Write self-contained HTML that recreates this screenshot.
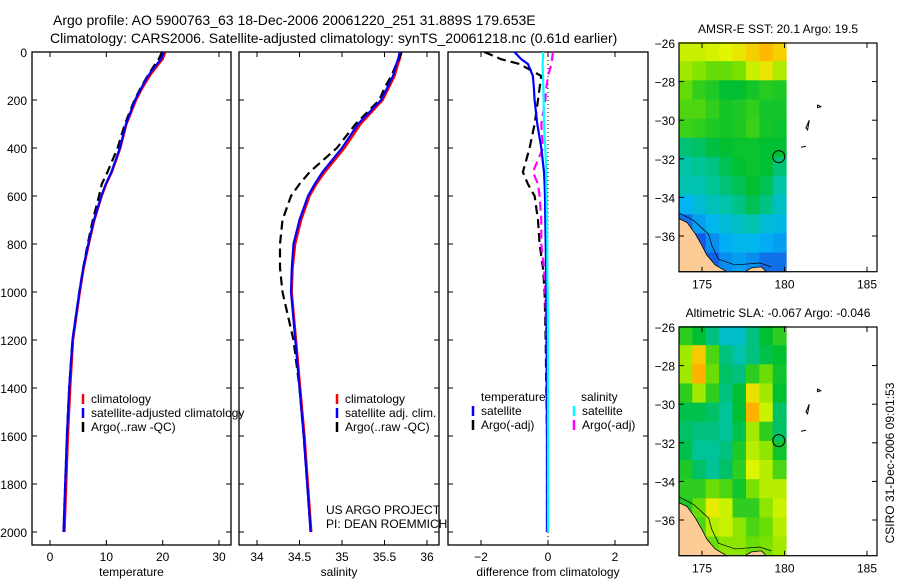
<!DOCTYPE html>
<html><head><meta charset="utf-8"><style>
body{margin:0;background:#fff;width:900px;height:580px;overflow:hidden}
svg text{font-family:"Liberation Sans",sans-serif;font-size:12px;fill:#000}
</style></head><body>
<svg id="fig" width="900" height="580" viewBox="0 0 900 580" xmlns="http://www.w3.org/2000/svg">
<text x="53" y="25" style="font-size:14px">Argo profile: AO 5900763_63 18-Dec-2006 20061220_251 31.889S 179.653E</text>
<text x="50" y="43" style="font-size:14px">Climatology: CARS2006. Satellite-adjusted climatology: synTS_20061218.nc (0.61d earlier)</text>
<g id="g"></g>
</svg>
<script>
const depths=[0,30,50,100,150,200,300,400,500,550,600,700,800,900,1000,1200,1400,1600,1800,2000];
const tempClim=[20.5,20.0,19.3,17.7,16.4,15.3,13.6,12.5,11.0,10.0,9.2,7.9,6.9,6.0,5.3,4.1,3.6,3.2,2.9,2.6];
const tempSat=[20.2,19.7,19.0,17.4,16.2,15.1,13.5,12.4,10.9,9.9,9.1,7.8,6.8,5.9,5.2,4.0,3.4,3.0,2.7,2.4];
const tempArgo=[19.9,19.3,18.7,17.3,16.1,15.0,13.3,12.0,10.2,9.2,8.7,7.6,6.7,5.9,5.2,4.0,3.4,3.0,2.7,2.4];
const salClim=[35.7,35.68,35.66,35.62,35.55,35.48,35.22,35.03,34.8,34.7,34.62,34.52,34.45,34.42,34.41,34.46,34.51,34.56,34.6,34.64];
const salSat=[35.68,35.66,35.64,35.6,35.53,35.46,35.19,35.0,34.77,34.68,34.6,34.5,34.43,34.41,34.4,34.45,34.5,34.55,34.59,34.63];
const salArgo=[35.7,35.67,35.64,35.58,35.5,35.44,35.16,34.94,34.62,34.5,34.4,34.3,34.27,34.27,34.3,34.43,34.5,34.55,34.59,34.63];
const dTempSat=[-1.0,-0.8,-0.6,-0.45,-0.42,-0.4,-0.32,-0.2,-0.12,-0.1,-0.09,-0.08,-0.07,-0.06,-0.05,-0.04,-0.04,-0.03,-0.03,-0.03];
const dTempArgo=[-1.9,-1.4,-0.85,-0.2,-0.25,-0.3,-0.4,-0.55,-0.75,-0.6,-0.4,-0.3,-0.25,-0.15,-0.1,-0.07,-0.05,-0.03,-0.03,-0.03];
const dSalSat=[-0.15,-0.15,-0.16,-0.15,-0.14,-0.13,-0.12,-0.08,-0.05,-0.05,-0.04,-0.03,-0.02,-0.02,-0.01,0,0,0,0,0];
const dSalArgo=[0.15,0.12,0.1,0.0,-0.05,-0.08,-0.2,-0.15,-0.45,-0.3,-0.25,-0.2,-0.2,-0.12,-0.08,-0.05,-0.03,0,0,0];
const depthTicks=[0,200,400,600,800,1000,1200,1400,1600,1800,2000];
const tempTicks=[0,10,20,30];
const salTicks=[34,34.5,35,35.5,36];
const diffTicks=[-2,0,2];
const latTicks=[-26,-28,-30,-32,-34,-36];
const lonTicks=[175,180,185];
const sstGrid=[
[20.8,20.8,20.9,21,21.2,21.5,21.8,21.5],
[20.5,20.3,20,20,20.2,20.8,21.2,20.6],
[20,19.5,19.3,19,19,19.2,19.4,19.3],
[19.8,19.8,19.5,19.2,19.3,19.5,19.2,19.2],
[19.6,19.5,19.3,19.2,19.3,19.6,19.2,19.1],
[18.6,18.7,18.9,19,19.1,19.1,19,19],
[18.3,18.4,18.5,18.8,19,19.1,19,18.6],
[18.2,18.2,18.4,18.6,18.8,19,18.8,18.3],
[17.4,17.8,18.1,18.3,18.5,18.8,18.5,18],
[16.5,17.1,17.5,17.8,18,18.2,17.8,17.6],
[15.5,16.2,16.9,17.3,17.5,17.5,17.3,17.1],
[14.8,15.3,16.3,16.9,17.1,16.9,16.5,16.5]];
const slaGrid=[
[-0.02,-0.05,-0.08,-0.12,-0.12,-0.08,-0.05,-0.02],
[0.05,0.12,0.0,-0.08,-0.1,-0.08,-0.06,-0.05],
[0.05,0.14,0.02,-0.07,-0.08,-0.02,0.02,-0.04],
[-0.02,0.05,-0.02,-0.08,-0.05,0.1,0.05,-0.05],
[-0.06,-0.06,-0.07,-0.09,-0.05,0.14,0.07,-0.07],
[-0.07,-0.08,-0.08,-0.09,-0.06,0.05,-0.02,-0.07],
[-0.06,-0.09,-0.09,-0.08,-0.03,0.06,0.04,-0.04],
[-0.03,-0.07,-0.09,-0.07,-0.02,0.08,0.06,0.0],
[-0.02,-0.02,0.02,0.0,-0.04,0.03,0.06,0.06],
[-0.03,0.02,0.09,0.07,-0.02,-0.02,0.04,0.07],
[-0.05,0.0,0.06,0.07,0.04,0.0,0.02,0.06],
[-0.06,-0.03,0.02,0.04,0.04,0.02,0.03,0.05]];
const floatLon=179.653, floatLat=-31.889;

const NS='http://www.w3.org/2000/svg';
const G=document.getElementById('g');
function mk(tag,attrs,parent){const e=document.createElementNS(NS,tag);for(const k in attrs)e.setAttribute(k,attrs[k]);(parent||G).appendChild(e);return e;}
function txt(x,y,s,anchor,extra){const t=mk('text',Object.assign({x:x,y:y,'text-anchor':anchor||'start'},extra||{}));t.textContent=s;return t;}
const yD=d=>52+d*0.24;

function panel(name,x0,x1,xmin,xmax,ticks,fmt,label,showY){
  const sx=v=>x0+18+(v-xmin)/(xmax-xmin)*(x1-x0-30);
  const r=mk('rect',{x:x0,y:52,width:x1-x0,height:493,fill:'none',stroke:'#000','stroke-width':1.3});
  
  
  ticks.forEach(t=>{const X=sx(t);
    mk('line',{x1:X,x2:X,y1:545,y2:540,stroke:'#000'});mk('line',{x1:X,x2:X,y1:52,y2:57,stroke:'#000'});
    const e=txt(X,561,fmt(t),'middle');
    
    });
  depthTicks.forEach(d=>{const Y=yD(d);
    mk('line',{x1:x0,x2:x0+5,y1:Y,y2:Y,stroke:'#000'});mk('line',{x1:x1,x2:x1-5,y1:Y,y2:Y,stroke:'#000'});
    if(showY){const e=txt(x0-5,Y+5,String(d),'end');
      
      }});
  const l=txt((x0+x1)/2,576,label,'middle');
  
  
  return sx;
}
function line(sx,vals,color,dash,name,w){
  const pts=vals.map((v,i)=>sx(v).toFixed(1)+','+yD(depths[i]).toFixed(1)).join(' ');
  const p=mk('polyline',{points:pts,fill:'none',stroke:color,'stroke-width':w||2.2,'stroke-dasharray':dash||'none'});
  
  
}
function legend(x,y,color,label,name){
  mk('line',{x1:x,x2:x,y1:y-9,y2:y+1,stroke:color,'stroke-width':2.5});
  const t=txt(x+8,y,label);
  
  
}

let sx=panel('temperature',32,231,0,30,tempTicks,String,'temperature',true);
line(sx,tempClim,'#f00',null,'temp-climatology-line');
line(sx,tempArgo,'#000','9,5','temp-argo-line');
line(sx,tempSat,'#00f',null,'temp-satellite-line');
legend(83,403,'#f00','climatology','legend-climatology');
legend(83,417,'#00f','satellite-adjusted climatology','legend-satellite-adjusted');
legend(83,431,'#000','Argo(..raw -QC)','legend-argo');
sx=panel('salinity',239,439,34,36,salTicks,String,'salinity',false);
line(sx,salClim,'#f00',null,'sal-climatology-line');
line(sx,salArgo,'#000','9,5','sal-argo-line');
line(sx,salSat,'#00f',null,'sal-satellite-line');
legend(337,403,'#f00','climatology','legend-sal-climatology');
legend(337,417,'#00f','satellite adj. clim.','legend-sal-satellite');
legend(337,431,'#000','Argo(..raw -QC)','legend-sal-argo');
let t1=txt(326,514,'US ARGO PROJECT');
let t2=txt(326,528,'PI: DEAN ROEMMICH');
sx=(v=>481+(v+2)*33.5);
(function(){const x0=448,x1=648;
 const r=mk('rect',{x:x0,y:52,width:x1-x0,height:493,fill:'none',stroke:'#000','stroke-width':1.3});
 
 
 diffTicks.forEach(t=>{const X=sx(t);mk('line',{x1:X,x2:X,y1:545,y2:540,stroke:'#000'});mk('line',{x1:X,x2:X,y1:52,y2:57,stroke:'#000'});
  const e=txt(X,561,t===0?'0':(t<0?'\u2212'+(-t):String(t)),'middle');
  
  });
 depthTicks.forEach(d=>{const Y=yD(d);mk('line',{x1:x0,x2:x0+5,y1:Y,y2:Y,stroke:'#000'});mk('line',{x1:x1,x2:x1-5,y1:Y,y2:Y,stroke:'#000'});});
 mk('line',{x1:sx(0),x2:sx(0),y1:52,y2:545,stroke:'#000','stroke-dasharray':'1,3'});
 const l=txt(548,576,'difference from climatology','middle');
 
 
})();
line(sx,dTempArgo,'#000','9,5','dtemp-argo-line');
line(sx,dSalArgo,'#f0f','9,5','dsal-argo-line');
line(sx,dTempSat,'#00f',null,'dtemp-satellite-line');
line(sx,dSalSat,'#0ff',null,'dsal-satellite-line');
let lt=txt(481,401,'temperature');
let ls=txt(581,401,'salinity');
legend(473,415,'#00f','satellite','legend-dtemp-satellite');
legend(473,429,'#000','Argo(-adj)','legend-dtemp-argo');
legend(574,415,'#0ff','satellite','legend-dsal-satellite');
legend(574,429,'#f0f','Argo(-adj)','legend-dsal-argo');

const cStops=[[0,[0,20,140]],[0.2,[20,90,230]],[0.35,[0,180,245]],[0.46,[0,195,170]],[0.55,[0,192,50]],[0.7,[120,225,0]],[0.8,[225,245,0]],[0.9,[255,185,0]],[1,[255,110,0]]];
function cmap(t){t=Math.max(0,Math.min(1,t));
 for(let i=1;i<cStops.length;i++){if(t<=cStops[i][0]){const a=cStops[i-1],b=cStops[i];const f=(t-a[0])/(b[0]-a[0]);
   return 'rgb('+a[1].map((c,k)=>Math.round(c+(b[1][k]-c)*f)).join(',')+')';}}
 return 'rgb(255,110,0)';}
function map(name,top,grid,norm,title){
 const lx=lon=>702+(lon-175)*16.5, ly=lat=>top+(-26-lat)*19.3;
 const bottom=ly(-37.85);
 grid.forEach((row,i)=>row.forEach((v,j)=>{
   const lon0=173.6+j*(6.5/8), lat0=-25.95-i*(11.9/12);
   const r=mk('rect',{x:lx(lon0),y:ly(lat0),width:16.5*6.5/8+0.5,height:19.3*11.9/12+0.5,fill:cmap(norm(v))});
   
   }));
 const land=[[173.6,-35.1],[174.1,-35.3],[174.6,-35.9],[175.0,-36.5],[175.3,-37.0],[175.8,-37.5],[176.5,-37.85],[173.6,-37.85]];
 const lp=mk('polygon',{points:land.map(p=>lx(p[0])+','+ly(p[1])).join(' '),fill:'#fdcb96',stroke:'#000','stroke-width':0.8});
 
 
 const lp2=mk('polygon',{points:[[177.6,-37.85],[178.0,-37.65],[178.6,-37.6],[178.9,-37.85]].map(p=>lx(p[0])+','+ly(p[1])).join(' '),fill:'#fdcb96',stroke:'#000','stroke-width':0.8});
 
 
 mk('polyline',{points:[[173.6,-34.8],[174.5,-35.2],[175.4,-35.9],[175.6,-36.5],[176.0,-37.2],[177.0,-37.5],[178.5,-37.4],[179.2,-37.6]].map(p=>lx(p[0])+','+ly(p[1])).join(' '),fill:'none',stroke:'#000','stroke-width':0.7});
 const box=mk('rect',{x:679,y:top,width:198,height:bottom-top,fill:'none',stroke:'#000','stroke-width':1.2});
 
 
 latTicks.forEach(l=>{const Y=ly(l);mk('line',{x1:679,x2:684,y1:Y,y2:Y,stroke:'#000'});mk('line',{x1:877,x2:872,y1:Y,y2:Y,stroke:'#000'});
   const e=txt(675,Y+5,'\u2212'+(-l),'end');
   
   });
 lonTicks.forEach(l=>{const X=lx(l);mk('line',{x1:X,x2:X,y1:bottom,y2:bottom-5,stroke:'#000'});mk('line',{x1:X,x2:X,y1:top,y2:top+5,stroke:'#000'});
   const e=txt(X,bottom+17,String(l),'middle');
   
   });
 [[[182.0,-29.2],[182.2,-29.3],[182.0,-29.35],[182.0,-29.2]],[[181.5,-30.0],[181.3,-30.4],[181.4,-30.5],[181.5,-30.0]],[[181.0,-31.4],[181.3,-31.35]]].forEach(seg=>
   mk('polyline',{points:seg.map(p=>lx(p[0])+','+ly(p[1])).join(' '),fill:'none',stroke:'#000','stroke-width':1}));
 const c=mk('circle',{cx:lx(floatLon),cy:ly(floatLat),r:6,fill:'none',stroke:'#000','stroke-width':1});
 
 
 const tt=txt(778,top-10,title,'middle');
 
 
}
map('sst-map',43,sstGrid,v=>(v-14.6)/8,'AMSR-E SST: 20.1 Argo: 19.5');
map('sla-map',327,slaGrid,v=>0.55+(v+0.05)*1.9,'Altimetric SLA: -0.067 Argo: -0.046');
const ts=txt(0,0,'CSIRO 31-Dec-2006 09:01:53','middle',{transform:'translate(894,463) rotate(-90)'});


</script>
</body></html>
